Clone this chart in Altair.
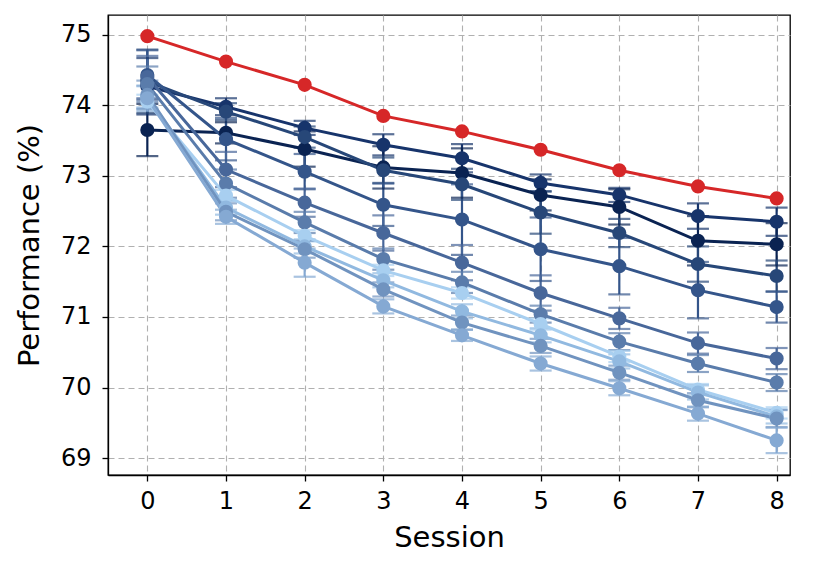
import altair as alt
import pandas as pd

sessions = [0, 1, 2, 3, 4, 5, 6, 7, 8]

red_vals = [74.98, 74.62, 74.29, 73.85, 73.63, 73.37, 73.08, 72.85, 72.68]

series_names = ["A", "B", "C", "D", "E", "F", "G", "H", "I", "J"]
series_colors = ["#17346b", "#0a2352", "#274778", "#34558a", "#48679a",
                 "#5a7cab", "#a8cff0", "#91b9e0", "#7093bf", "#85a9d3"]

vals = {
    "A": [74.27, 73.98, 73.68, 73.44, 73.25, 72.90, 72.73, 72.43, 72.35],
    "B": [73.65, 73.61, 73.38, 73.12, 73.04, 72.73, 72.56, 72.08, 72.03],
    "C": [74.34, 73.91, 73.55, 73.08, 72.88, 72.48, 72.19, 71.75, 71.58],
    "D": [74.43, 73.52, 73.06, 72.59, 72.38, 71.96, 71.72, 71.38, 71.14],
    "E": [74.40, 73.09, 72.62, 72.19, 71.77, 71.34, 70.98, 70.63, 70.41],
    "F": [74.30, 72.89, 72.34, 71.82, 71.49, 71.04, 70.65, 70.34, 70.07],
    "G": [74.05, 72.72, 72.15, 71.66, 71.34, 70.90, 70.44, 69.97, 69.64],
    "H": [74.12, 72.55, 72.00, 71.52, 71.08, 70.74, 70.37, 69.93, 69.59],
    "I": [74.15, 72.49, 71.96, 71.39, 70.92, 70.59, 70.21, 69.82, 69.56],
    "J": [74.10, 72.42, 71.77, 71.15, 70.74, 70.34, 69.99, 69.63, 69.25],
}

errs = {
    "A": [0.40, 0.12, 0.10, 0.15, 0.20, 0.12, 0.10, 0.18, 0.20],
    "B": [0.37, 0.15, 0.25, 0.30, 0.35, 0.22, 0.25, 0.35, 0.30],
    "C": [0.45, 0.12, 0.15, 0.18, 0.22, 0.30, 0.20, 0.25, 0.22],
    "D": [0.35, 0.30, 0.25, 0.30, 0.50, 0.45, 0.40, 0.40, 0.22],
    "E": [0.30, 0.25, 0.20, 0.25, 0.25, 0.25, 0.15, 0.15, 0.15],
    "F": [0.25, 0.20, 0.15, 0.15, 0.15, 0.12, 0.12, 0.12, 0.12],
    "G": [0.10, 0.08, 0.08, 0.08, 0.08, 0.08, 0.08, 0.08, 0.08],
    "H": [0.15, 0.10, 0.10, 0.10, 0.10, 0.10, 0.10, 0.10, 0.10],
    "I": [0.20, 0.12, 0.12, 0.10, 0.10, 0.10, 0.10, 0.10, 0.12],
    "J": [0.18, 0.10, 0.20, 0.10, 0.08, 0.10, 0.10, 0.10, 0.18],
}

rows = []
for k, name in enumerate(series_names):
    for s, v, e in zip(sessions, vals[name], errs[name]):
        rows.append({"series": name, "session": s, "value": v, "err": e, "k": k})
df = pd.DataFrame(rows)
df["lo"] = df["value"] - df["err"]
df["hi"] = df["value"] + df["err"]

red_df = pd.DataFrame({"session": sessions, "value": red_vals})

FONT = "DejaVu Sans"
xscale = alt.Scale(domain=[-0.5, 8.17], nice=False, zero=False)
yscale = alt.Scale(domain=[68.76, 75.28], nice=False, zero=False)
color = alt.Color("series:N", scale=alt.Scale(domain=series_names, range=series_colors), legend=None)

xax = alt.Axis(values=sessions, format="d", title="Session", grid=True)
yax = alt.Axis(values=[69, 70, 71, 72, 73, 74, 75], format="d", title="Performance (%)", grid=True)

base = alt.Chart(df)

rules = base.mark_rule(strokeWidth=2.2).encode(
    x=alt.X("session:Q", scale=xscale, axis=xax),
    y=alt.Y("lo:Q", scale=yscale, axis=yax),
    y2="hi:Q",
    color=color,
)
caps_lo = base.mark_tick(orient="horizontal", size=22, thickness=2.2).encode(
    x=alt.X("session:Q", scale=xscale), y=alt.Y("lo:Q", scale=yscale), color=color
)
caps_hi = base.mark_tick(orient="horizontal", size=22, thickness=2.2).encode(
    x=alt.X("session:Q", scale=xscale), y=alt.Y("hi:Q", scale=yscale), color=color
)
lines = base.mark_line(strokeWidth=3).encode(
    x=alt.X("session:Q", scale=xscale),
    y=alt.Y("value:Q", scale=yscale),
    color=color,
    detail="series:N",
    order=alt.Order("session:Q"),
)
points = base.mark_circle(size=200, opacity=1).encode(
    x=alt.X("session:Q", scale=xscale),
    y=alt.Y("value:Q", scale=yscale),
    color=color,
)

red_line = alt.Chart(red_df).mark_line(strokeWidth=3, color="#d62728").encode(
    x=alt.X("session:Q", scale=xscale), y=alt.Y("value:Q", scale=yscale)
)
red_pts = alt.Chart(red_df).mark_circle(size=200, opacity=1, color="#d62728").encode(
    x=alt.X("session:Q", scale=xscale), y=alt.Y("value:Q", scale=yscale)
)

chart = alt.layer(rules, caps_lo, caps_hi, lines, points, red_line, red_pts).properties(
    width=682, height=460,
    autosize=alt.AutoSizeParams(type="none"),
    padding={"left": 100, "top": 7, "right": 26, "bottom": 85},
).configure_view(
    stroke="black", strokeWidth=1.3
).configure_axis(
    labelFont=FONT, titleFont=FONT, labelFontSize=24, titleFontSize=29,
    titleFontWeight="normal", labelColor="black", titleColor="black",
    domainColor="black", domainWidth=1.3, tickColor="black", tickSize=6, tickWidth=1.3,
    gridColor="#b0b0b0", gridDash=[6, 4], gridWidth=1.1, labelPadding=8,
).configure_axisY(
    titlePadding=16, labelPadding=11
).configure_axisX(
    titlePadding=10
)

chart.save("out.html", embed_options={"renderer": "svg", "actions": False})
